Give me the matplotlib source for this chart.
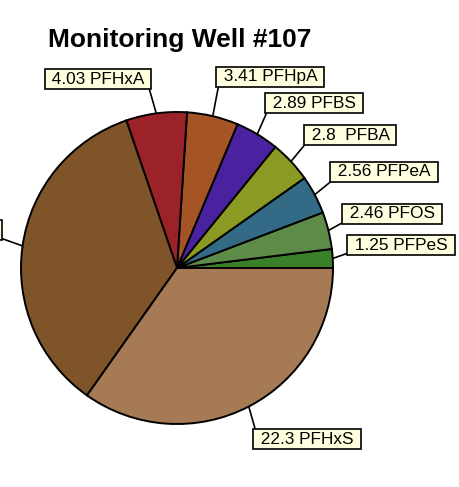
import numpy as np
import matplotlib
matplotlib.use("Agg")
import matplotlib.pyplot as plt

plt.rcParams["font.family"] = ["Liberation Sans", "DejaVu Sans"]

# chart data (slices counter-clockwise from 3 o'clock)
compounds = ["PFPeS", "PFOS", "PFPeA", "PFBA", "PFBS", "PFHpA", "PFHxA", "PFOA", "PFHxS"]
values = [1.25, 2.46, 2.56, 2.8, 2.89, 3.41, 4.03, 22.4, 22.3]
value_text = ["1.25", "2.46", "2.56", "2.8 ", "2.89", "3.41", "4.03", "22.4", "22.3"]
colors = ["#3a7f2a", "#5e8b48", "#336a86", "#8a9a22", "#4a22a0",
          "#a45425", "#9b2229", "#7f5428", "#a57a55"]

# label box layout in pixels (centre x, centre y from top, corner used by leader)
W, H = 459, 487
box_pos = [(401, 245), (392, 214), (384, 172), (350, 135), (314, 103),
           (270, 77), (98, 79), (-48, 230), (307, 439)]
rel_pos = [(0, 0), (0, 0), (0, 0), (0, 0), (0, 0), (0, 0), (1, 0), (1, 0), (0, 1)]

cx, cy, r = 177, H - 268, 156

fig = plt.figure(figsize=(W / 100, H / 100), dpi=100)
ax = fig.add_axes([0, 0, 1, 1])
ax.axis("off")

wedges, _ = ax.pie(values, colors=colors, startangle=0, counterclock=True,
                   center=(cx, cy), radius=r,
                   wedgeprops=dict(edgecolor="black", linewidth=1.4))
ax.set_xlim(0, W)
ax.set_ylim(0, H)
ax.set_aspect("equal")

for w, name, vt, (bx, by), rp in zip(wedges, compounds, value_text, box_pos, rel_pos):
    mid = np.deg2rad((w.theta1 + w.theta2) / 2)
    px = cx + r * np.cos(mid)
    py = cy + r * np.sin(mid)
    ax.annotate(f" {vt} {name} ", xy=(px, py), xytext=(bx, H - by),
                ha="center", va="center", fontsize=12.4, annotation_clip=False,
                bbox=dict(boxstyle="square,pad=0.17", fc="#ffffe0", ec="black", lw=1.2),
                arrowprops=dict(arrowstyle="-", color="black", lw=1.2,
                                relpos=rp, shrinkA=0, shrinkB=0))

fig.text(180 / W, 1 - 40 / H, "Monitoring Well #107", ha="center", va="center",
         fontsize=19, fontweight="bold")

fig.savefig("out.png", dpi=100)
